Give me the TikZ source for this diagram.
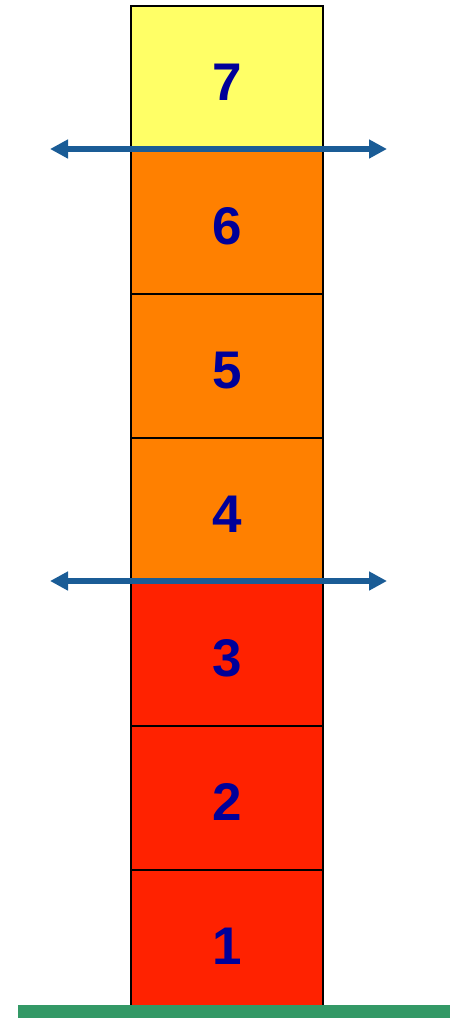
\documentclass[tikz,border=0pt]{standalone}
\usepackage{fontspec}
\setmainfont{Liberation Sans}
\usetikzlibrary{arrows.meta}
\definecolor{cyel}{HTML}{FFFF66}
\definecolor{corg}{HTML}{FF8000}
\definecolor{cred}{HTML}{FF2200}
\definecolor{cnum}{HTML}{000099}
\definecolor{carr}{HTML}{1A5C96}
\definecolor{cgrn}{HTML}{339966}
\tikzset{
  layer/.style={draw=black, line width=1.5pt, minimum width=192pt, minimum height=144pt, inner sep=0pt, anchor=north west,
    font=\fontsize{53}{53}\selectfont\bfseries, text=cnum, text height=46pt, text depth=0pt},
  sep/.style={draw=carr, line width=5.5pt, {Triangle[length=18pt,width=18pt]}-{Triangle[length=18pt,width=18pt]}}
}
\begin{document}
\begin{tikzpicture}[x=1pt,y=-1pt]
\useasboundingbox (0,0) rectangle (457,1018);
\node[layer, fill=cred] (l1) at (130,869) {1};
\node[layer, fill=cred] (l2) at (130,725) {2};
\node[layer, fill=cred] (l3) at (130,581) {3};
\node[layer, fill=corg] (l4) at (130,437) {4};
\node[layer, fill=corg] (l5) at (130,293) {5};
\node[layer, fill=corg] (l6) at (130,149) {6};
\node[layer, fill=cyel] (l7) at (130,5) {7};
\fill[cgrn] (18,1005) rectangle (450,1018);
\coordinate (a1l) at (50,149); \coordinate (a1r) at (387,149);
\coordinate (a2l) at (50,581); \coordinate (a2r) at (387,581);
\draw[sep] (a1l) -- (a1r);
\draw[sep] (a2l) -- (a2r);
\end{tikzpicture}
\end{document}
